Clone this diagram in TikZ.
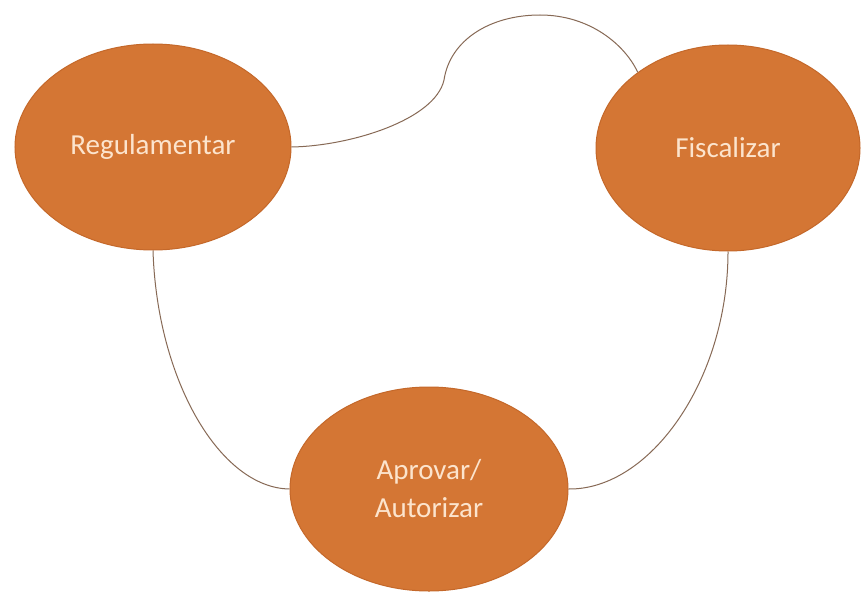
\documentclass[tikz,border=0pt]{standalone}
\usepackage{fontspec}
\setmainfont{Carlito}
\usetikzlibrary{shapes.geometric}
\definecolor{ovalfill}{RGB}{212,118,52}
\definecolor{ovaledge}{RGB}{196,104,42}
\definecolor{ovaltext}{RGB}{252,228,205}
\definecolor{linkcol}{RGB}{135,105,85}
\tikzset{
  oval/.style={ellipse, fill=ovalfill, draw=ovaledge, line width=1pt, inner sep=0pt,
    text=ovaltext, align=center, font=\fontsize{29}{38}\selectfont},
  link/.style={draw=linkcol, line width=1pt}
}
\begin{document}
\begin{tikzpicture}[x=1pt,y=-1pt]
\useasboundingbox[fill=white] (0,0) rectangle (861,591);
\node[oval, minimum width=276pt, minimum height=206pt] (reg) at (153,147) {Regulamentar};
\node[oval, minimum width=264pt, minimum height=206pt] (fis) at (728,148) {Fiscalizar};
\node[oval, minimum width=278pt, minimum height=204pt] (apr) at (429,489) {Aprovar/\\Autorizar};
\coordinate (k1) at (444,80);
\coordinate (k2) at (540,15);
\path[link] (reg.east) .. controls (350,146) and (435,120) .. (k1)
  .. controls (450,40) and (490,15) .. (k2)
  .. controls (590,15) and (625,45) .. (fis.140);
\path[link] (reg.south) .. controls (157,380) and (220,488) .. (apr.west);
\path[link] (fis.south) .. controls (728,380) and (650,490) .. (apr.east);
\end{tikzpicture}
\end{document}
